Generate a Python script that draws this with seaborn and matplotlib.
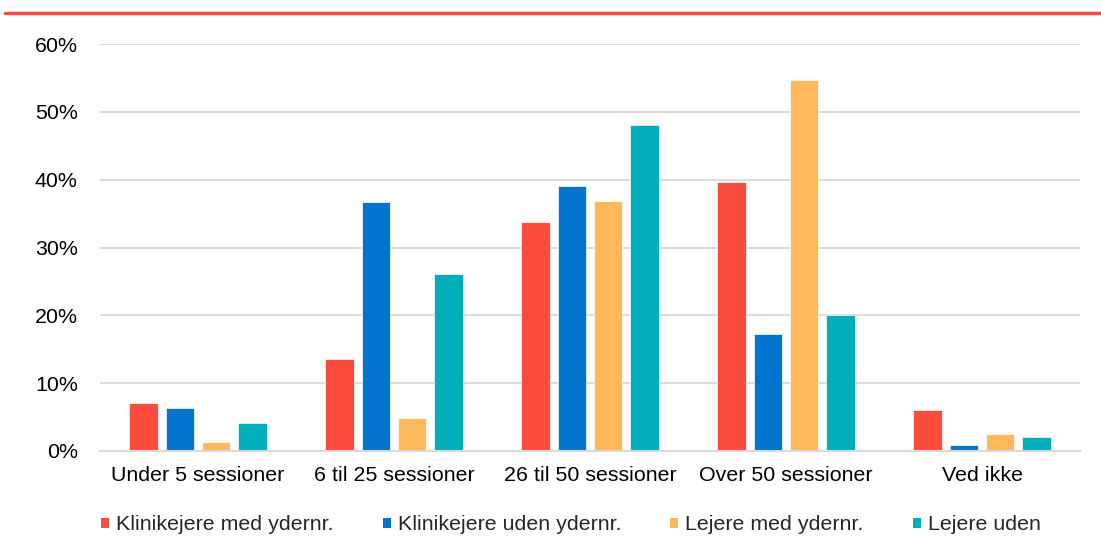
import numpy as np
import pandas as pd
import seaborn as sns
import matplotlib
matplotlib.use("Agg")
import matplotlib.pyplot as plt
from matplotlib.lines import Line2D
from matplotlib.patches import Patch

categories = ["Under 5 sessioner", "6 til 25 sessioner", "26 til 50 sessioner", "Over 50 sessioner", "Ved ikke"]
series = ["Klinikejere med ydernr.", "Klinikejere uden ydernr.", "Lejere med ydernr.", "Lejere uden"]
klinik_med = [7.1, 13.6, 33.7, 39.7, 6.1]
klinik_uden = [6.3, 36.7, 39.0, 17.2, 0.9]
lejere_med = [1.3, 4.9, 36.8, 54.7, 2.5]
lejere_uden = [4.1, 26.1, 48.0, 20.1, 2.1]
colors = ["#F94C3C", "#0175CD", "#FFB95A", "#00AEB9"]
yticks = [0, 10, 20, 30, 40, 50, 60]

rows = []
for s, vals in zip(series, [klinik_med, klinik_uden, lejere_med, lejere_uden]):
    for c, v in zip(categories, vals):
        rows.append({"cat": c, "series": s, "val": v / 100})
df = pd.DataFrame(rows)

sns.set_theme(style="white")
plt.rcParams["font.family"] = ["Liberation Sans", "DejaVu Sans"]

FS = 15.4
fig = plt.figure(figsize=(11.01, 5.56), dpi=100)
ax = fig.add_axes([100/1101, (556-451)/556, 980/1101, (451-44)/556])

sns.barplot(data=df, x="cat", y="val", hue="series", order=categories, hue_order=series,
            palette=colors, width=0.74, gap=0.22, ax=ax, legend=False,
            edgecolor="white", linewidth=0.5, saturation=1, errorbar=None)

ax.set_ylim(0, 0.6)
ax.set_xlim(-0.5, 4.5)
ax.set_yticks([t/100 for t in yticks])
ax.set_yticklabels([f"{t}%" for t in yticks], fontsize=FS, color="#000000")
ax.tick_params(axis="x", labelsize=FS, colors="#000000", length=0, pad=11)
ax.tick_params(axis="y", length=0, pad=16)
ax.set_xlabel("")
ax.set_ylabel("")
ax.yaxis.grid(True, color="#D9D9D9", linewidth=1.3)
ax.set_axisbelow(True)
for sp in ["top", "right", "left"]:
    ax.spines[sp].set_visible(False)
ax.spines["bottom"].set_color("#D9D9D9")
ax.spines["bottom"].set_linewidth(1.5)

handles = [Patch(facecolor=c, edgecolor="none") for c in colors]
fig.legend(handles, series, loc="center left", bbox_to_anchor=(101/1101, 1-525/556), ncol=4,
           frameon=False, fontsize=FS, handlelength=0.38, handleheight=0.38, handletextpad=0.32,
           columnspacing=2.3, borderaxespad=0, borderpad=0)

fig.add_artist(Line2D([5/1101, 1.0], [1-13/556, 1-13/556], color="#F94C3C", linewidth=2.5,
                      transform=fig.transFigure))

fig.savefig("out.png", dpi=100)
